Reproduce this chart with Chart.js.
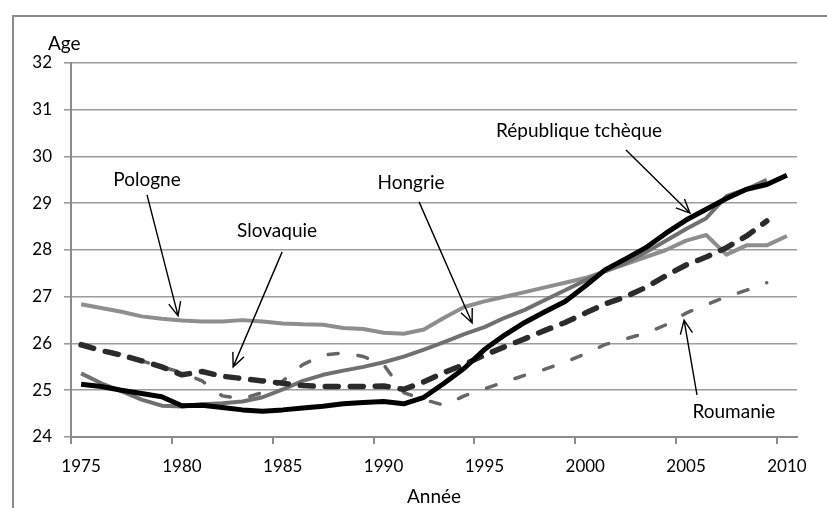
<!DOCTYPE html>
<html>
<head>
<meta charset="utf-8">
<script src="https://cdn.jsdelivr.net/npm/chart.js@4"></script>
<style>
  html, body { margin: 0; padding: 0; background: #fff; }
  #wrap { width: 827px; height: 508px; }
</style>
</head>
<body>
<div id="wrap"><canvas id="myChart" width="827" height="508"></canvas></div>
<script>
var years = [1975, 1976, 1977, 1978, 1979, 1980, 1981, 1982, 1983, 1984, 1985, 1986,
  1987, 1988, 1989, 1990, 1991, 1992, 1993, 1994, 1995, 1996, 1997, 1998,
  1999, 2000, 2001, 2002, 2003, 2004, 2005, 2006, 2007, 2008, 2009, 2010];

var tchequie = [25.13, 25.08, 25.00, 24.93, 24.86, 24.67, 24.68, 24.63, 24.58, 24.55, 24.58, 24.62,
  24.66, 24.71, 24.74, 24.76, 24.71, 24.85, 25.15, 25.47, 25.87, 26.18, 26.45, 26.68,
  26.90, 27.23, 27.58, 27.81, 28.05, 28.36, 28.64, 28.87, 29.10, 29.30, 29.40, 29.60];
var slovaquie = [25.97, 25.85, 25.75, 25.63, 25.50, 25.33, 25.40, 25.30, 25.25, 25.20, 25.15, 25.10,
  25.08, 25.08, 25.08, 25.09, 25.02, 25.18, 25.38, 25.55, 25.75, 25.93, 26.10, 26.28,
  26.45, 26.65, 26.85, 27.00, 27.20, 27.45, 27.68, 27.85, 28.05, 28.30, 28.62, null];
var roumanie = [26.00, 25.88, 25.77, 25.63, 25.50, 25.38, 25.20, 24.88, 24.82, 24.95, 25.20, 25.55,
  25.75, 25.80, 25.72, 25.55, 24.95, 24.80, 24.68, 24.88, 25.03, 25.18, 25.32, 25.45,
  25.60, 25.78, 25.98, 26.10, 26.22, 26.40, 26.65, 26.83, 27.00, 27.14, 27.30, null];
var hongrie = [25.36, 25.15, 24.98, 24.80, 24.67, 24.65, 24.70, 24.72, 24.76, 24.85, 25.02, 25.20,
  25.33, 25.42, 25.50, 25.60, 25.72, 25.87, 26.03, 26.20, 26.35, 26.55, 26.72, 26.93,
  27.14, 27.35, 27.55, 27.72, 27.95, 28.20, 28.45, 28.68, 29.15, 29.30, 29.50, null];
var pologne = [26.84, 26.76, 26.68, 26.58, 26.53, 26.49, 26.47, 26.47, 26.50, 26.47, 26.43, 26.41,
  26.40, 26.33, 26.31, 26.23, 26.21, 26.30, 26.55, 26.78, 26.90, 27.00, 27.10, 27.20,
  27.30, 27.40, 27.55, 27.70, 27.85, 28.00, 28.20, 28.32, 27.90, 28.10, 28.10, 28.30];

var xTicks = [1975, 1980, 1985, 1990, 1995, 2000, 2005, 2010];

// étiquettes : texte (année, âge) -> départ de flèche -> pointe
var notes = [
  { text: 'Pologne', tx: 1978.27, ty: 29.50, x1: 1978.27, y1: 29.18, x2: 1979.81, y2: 26.59 },
  { text: 'Slovaquie', tx: 1984.72, ty: 28.41, x1: 1984.97, y1: 27.96, x2: 1982.54, y2: 25.50 },
  { text: 'Hongrie', tx: 1991.36, ty: 29.43, x1: 1991.76, y1: 29.03, x2: 1994.39, y2: 26.44 },
  { text: 'République tchèque', tx: 1999.69, ty: 30.55, x1: 2002.02, y1: 30.14, x2: 2005.19, y2: 28.79 },
  { text: 'Roumanie', tx: 2007.37, ty: 24.53, x1: 2005.54, y1: 24.90, x2: 2004.90, y2: 26.50 }
];

function pts(arr) {
  return years.map(function (y, i) { return { x: y, y: arr[i] }; });
}

function arrow(ctx, x1, y1, x2, y2) {
  var a = Math.atan2(y2 - y1, x2 - x1), L = 15, w = 0.42;
  ctx.beginPath();
  ctx.moveTo(x1, y1);
  ctx.lineTo(x2, y2);
  ctx.moveTo(x2 - L * Math.cos(a - w), y2 - L * Math.sin(a - w));
  ctx.lineTo(x2, y2);
  ctx.lineTo(x2 - L * Math.cos(a + w), y2 - L * Math.sin(a + w));
  ctx.stroke();
}

var decor = {
  id: 'decor',
  beforeDraw: function (chart) {
    var ctx = chart.ctx;
    ctx.save();
    ctx.strokeStyle = '#8c8c8c';
    ctx.lineWidth = 2;
    ctx.strokeRect(13, 16, 900, 600);
    ctx.restore();
  },
  afterDraw: function (chart) {
    var ctx = chart.ctx, xs = chart.scales.x, ys = chart.scales.y;
    ctx.save();
    // petites graduations entre les catégories
    ctx.strokeStyle = '#8c8c8c';
    ctx.lineWidth = 2;
    xTicks.forEach(function (t) {
      var px = Math.round(xs.getPixelForValue(t - 0.5));
      ctx.beginPath();
      ctx.moveTo(px, ys.bottom);
      ctx.lineTo(px, ys.bottom + 7);
      ctx.stroke();
    });
    ctx.fillStyle = '#000';
    ctx.font = '19px Lato';
    ctx.textAlign = 'left';
    ctx.textBaseline = 'middle';
    ctx.fillText('Age', 48, 44);
    ctx.textAlign = 'center';
    ctx.strokeStyle = '#000';
    ctx.lineWidth = 1.4;
    notes.forEach(function (n) {
      ctx.fillText(n.text, xs.getPixelForValue(n.tx), ys.getPixelForValue(n.ty));
      arrow(ctx, xs.getPixelForValue(n.x1), ys.getPixelForValue(n.y1),
        xs.getPixelForValue(n.x2), ys.getPixelForValue(n.y2));
    });
    ctx.restore();
  }
};

Chart.defaults.font.family = 'Lato';
Chart.defaults.font.size = 17;
Chart.defaults.color = '#000';

var ctx = document.getElementById('myChart');
var chart = new Chart(ctx, {
  type: 'line',
  data: {
    datasets: [
      { label: 'République tchèque', data: pts(tchequie), borderColor: '#000000', borderWidth: 5 },
      { label: 'Slovaquie', data: pts(slovaquie), borderColor: '#2b2b2b', borderWidth: 5.5,
        borderDash: [13, 12], borderCapStyle: 'round' },
      { label: 'Roumanie', data: pts(roumanie), borderColor: '#666666', borderWidth: 3.5,
        borderDash: [10, 20], borderCapStyle: 'round' },
      { label: 'Hongrie', data: pts(hongrie), borderColor: '#707070', borderWidth: 4 },
      { label: 'Pologne', data: pts(pologne), borderColor: '#8e8e8e', borderWidth: 4 }
    ]
  },
  options: {
    responsive: false,
    animation: false,
    events: [],
    spanGaps: false,
    elements: {
      point: { radius: 0 },
      line: { tension: 0, fill: false, borderJoinStyle: 'round' }
    },
    layout: { padding: { left: 0, top: 63, right: 30, bottom: 0 } },
    plugins: { legend: { display: false }, tooltip: { enabled: false } },
    scales: {
      x: {
        type: 'linear',
        min: 1974.5,
        max: 2010.5,
        afterBuildTicks: function (scale) {
          scale.ticks = xTicks.map(function (v) { return { value: v }; });
        },
        afterFit: function (scale) { scale.height = 71; },
        ticks: {
          padding: 19,
          maxRotation: 0,
          callback: function (v) { return String(v); }
        },
        grid: { display: false, drawTicks: false },
        border: { color: '#8c8c8c', width: 2 },
        title: { display: true, text: 'Année', font: { size: 19 }, padding: { top: 0, bottom: 0 } }
      },
      y: {
        min: 24,
        max: 32,
        afterFit: function (scale) { scale.width = 71; },
        ticks: { stepSize: 1, padding: 12 },
        grid: { color: '#9c9c9c', lineWidth: 1.6, tickLength: 7 },
        border: { color: '#8c8c8c', width: 2 }
      }
    }
  },
  plugins: [decor]
});
</script>
</body>
</html>
